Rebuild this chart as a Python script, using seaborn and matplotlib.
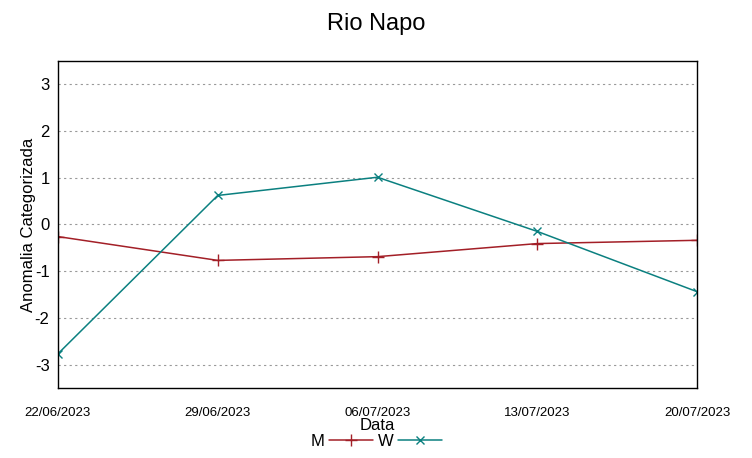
import matplotlib
matplotlib.use("Agg")
import matplotlib.pyplot as plt
import seaborn as sns
import pandas as pd

# ==============================
# DADOS
# ==============================
datas = ["22/06/2023", "29/06/2023", "06/07/2023", "13/07/2023", "20/07/2023"]
serie_m = [-0.26, -0.77, -0.69, -0.41, -0.34]
serie_w = [-2.77, 0.62, 1.01, -0.15, -1.44]

datas_dt = pd.to_datetime(datas, format="%d/%m/%Y")

# ==============================
# FIGURA
# ==============================
sns.set_style("white")
plt.rcParams["font.family"] = ["Liberation Sans", "DejaVu Sans"]
plt.rcParams["axes.unicode_minus"] = False
plt.rcParams["text.color"] = "black"
plt.rcParams["axes.labelcolor"] = "black"
plt.rcParams["xtick.color"] = "black"
plt.rcParams["ytick.color"] = "black"

fig = plt.figure(figsize=(7.52, 4.58), dpi=100)
ax = fig.add_axes([0.077, 0.153, 0.850, 0.714])

cor_m = "#a31f27"
cor_w = "#0b8080"
sns.lineplot(x=datas_dt, y=serie_m, color=cor_m, marker="+", markersize=8,
             markeredgewidth=1.0, markeredgecolor=cor_m, linewidth=1.1,
             label="M", ax=ax)
sns.lineplot(x=datas_dt, y=serie_w, color=cor_w, marker="x", markersize=6,
             markeredgewidth=1.0, markeredgecolor=cor_w, linewidth=1.1,
             label="W", ax=ax)

ax.set_ylim(-3.5, 3.5)
ax.set_xlim(datas_dt.min(), datas_dt.max())
ax.set_yticks([-3, -2, -1, 0, 1, 2, 3])
ax.set_xticks(datas_dt)
ax.set_xticklabels(datas, fontsize=9.5)
ax.tick_params(axis="y", labelsize=12, direction="in", length=5, pad=6)
ax.tick_params(axis="x", direction="in", length=5, pad=14)
ax.yaxis.grid(True, linestyle=(0, (2, 3)), color="#999999", linewidth=0.8)
for s in ax.spines.values():
    s.set_color("black")
    s.set_linewidth(1.0)

ax.set_xlabel("Data", fontsize=12, labelpad=-1)
ax.set_ylabel("Anomalia Categorizada", fontsize=12, labelpad=-1)
fig.suptitle("Rio Napo", fontsize=17, y=0.972)

ax.legend(loc="center", bbox_to_anchor=(0.5, 0.037), bbox_transform=fig.transFigure,
          ncol=2, frameon=False, markerfirst=False, fontsize=12, handlelength=2.6,
          columnspacing=0.3, handletextpad=0.3, borderpad=0)

fig.savefig("out.png", dpi=100)
